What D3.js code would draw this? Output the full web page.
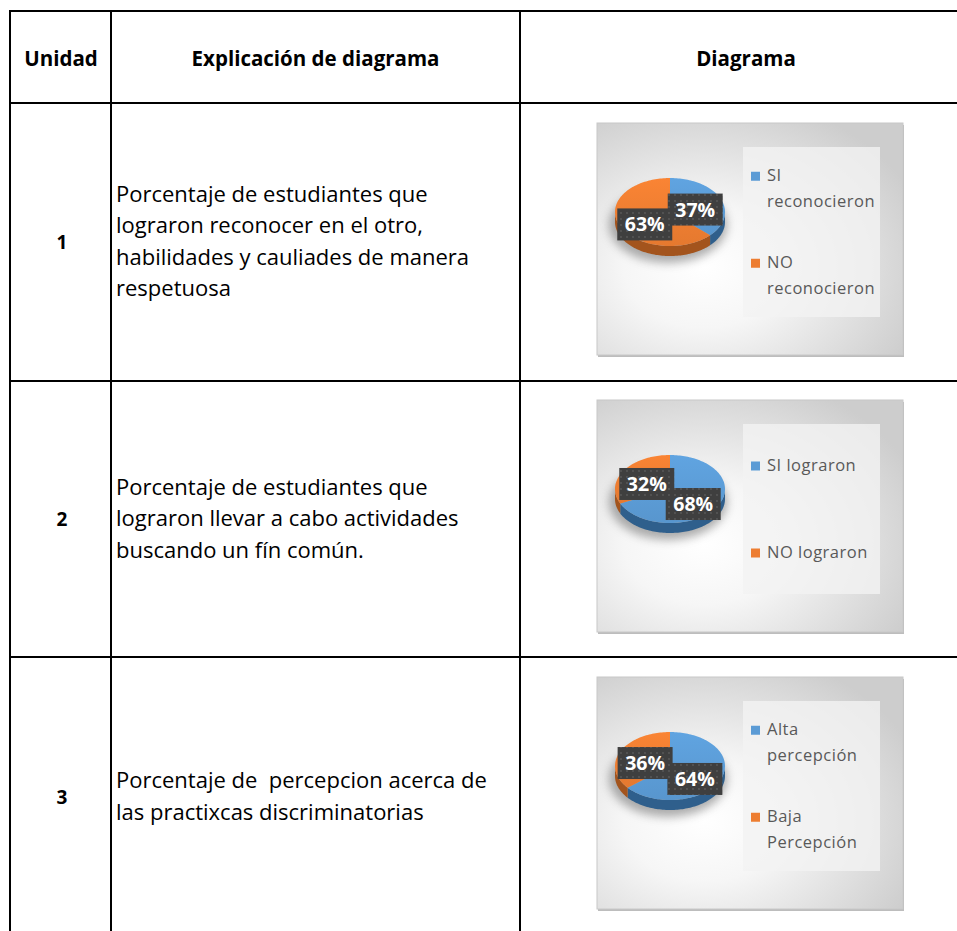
<!DOCTYPE html>
<html><head><meta charset="utf-8">
<script src="https://cdn.jsdelivr.net/npm/d3@7"></script>
<style>body{margin:0;background:#fff}svg{display:block}</style>
</head><body>
<script>
// ---- data ----
const headers = ["Unidad", "Explicación de diagrama", "Diagrama"];
const units = ["1", "2", "3"];
const explanations = [
  ["Porcentaje de estudiantes que", "lograron reconocer en el otro,", "habilidades y cauliades de manera", "respetuosa"],
  ["Porcentaje de estudiantes que", "lograron llevar a cabo actividades", "buscando un fín común."],
  ["Porcentaje de  percepcion acerca de", "las practixcas discriminatorias"]
];
const seriesNames = [
  [["SI", "reconocieron"], ["NO", "reconocieron"]],
  [["SI lograron"], ["NO lograron"]],
  [["Alta", "percepción"], ["Baja", "Percepción"]]
];
const values = [[37, 63], [68, 32], [64, 36]];
const colors = ["#5b9bd5", "#ed7d31"];
const sideColors = ["#2f5f8c", "#a3541d"];

// ---- layout ----
const W = 957, H = 931;
const svg = d3.select("body").append("svg").attr("width", W).attr("height", H);
svg.append("rect").attr("width", W).attr("height", H).attr("fill", "#fff");
const defs = svg.append("defs");

const colX = [10, 111, 520, W];
const rowY = [11, 103, 381, 657, H + 5];
const font = "'Open Sans', sans-serif";

const g = svg.append("g");
// header text
const headerY = (rowY[0] + rowY[1]) / 2;
headers.forEach((h, i) => {
  let cx = (colX[i] + colX[i + 1]) / 2;
  if (i === 2) cx = 746;
  if (i === 0) cx = 61;
  g.append("text").attr("x", cx).attr("y", headerY + 8.5).attr("text-anchor", "middle")
    .attr("font-family", font).attr("font-weight", "bold").attr("font-size", 20.5).attr("fill", "#000").text(h);
});

// rows
const lineH = 31.5;
units.forEach((u, r) => {
  const y0 = rowY[r + 1], y1 = Math.min(rowY[r + 2], 935);
  const cy = r < 2 ? (y0 + y1) / 2 : 797;
  g.append("text").attr("x", 62).attr("y", cy + 7).attr("text-anchor", "middle")
    .attr("font-family", font).attr("font-weight", "bold").attr("font-size", 19).text(u);
  const lines = explanations[r];
  lines.forEach((t, j) => {
    const by = cy + (j - (lines.length - 1) / 2) * lineH + 7;
    g.append("text").attr("x", 116).attr("y", by).attr("font-family", font)
      .attr("font-size", 22).attr("fill", "#000").style("white-space", "pre").text(t);
  });
});

// grid lines
const grid = svg.append("g").attr("stroke", "#000").attr("stroke-width", 2);
rowY.slice(0, 4).forEach(y => grid.append("line").attr("x1", colX[0] - 1).attr("x2", W).attr("y1", y).attr("y2", y));
colX.slice(0, 3).forEach(x => grid.append("line").attr("x1", x).attr("x2", x).attr("y1", rowY[0] - 1).attr("y2", H));

// ---- chart defs ----
const bgGrad = defs.append("radialGradient").attr("id", "bg").attr("cx", "0.35").attr("cy", "0.62").attr("r", "0.75");
bgGrad.append("stop").attr("offset", "0").attr("stop-color", "#ffffff");
bgGrad.append("stop").attr("offset", "0.35").attr("stop-color", "#f6f6f6");
bgGrad.append("stop").attr("offset", "1").attr("stop-color", "#cdcdcd");
const blur = defs.append("filter").attr("id", "blur").attr("x", "-50%").attr("y", "-50%").attr("width", "200%").attr("height", "200%");
blur.append("feGaussianBlur").attr("stdDeviation", 5);
const pat = defs.append("pattern").attr("id", "dots").attr("width", 6).attr("height", 6).attr("patternUnits", "userSpaceOnUse");
pat.append("rect").attr("width", 6).attr("height", 6).attr("fill", "#3f3f3f");
pat.append("circle").attr("cx", 3).attr("cy", 3).attr("r", 0.9).attr("fill", "#5a5a5a");
colors.forEach((c, i) => {
  const lg = defs.append("linearGradient").attr("id", "top" + i).attr("x1", 0).attr("y1", 0).attr("x2", 0).attr("y2", 1);
  lg.append("stop").attr("offset", 0).attr("stop-color", d3.color(c).brighter(0.15));
  lg.append("stop").attr("offset", 1).attr("stop-color", d3.color(c).darker(0.1));
});

// ---- charts ----
const boxX = 597, boxW = 306, boxH = 232;
const boxY = [123, 400, 677];
const rx = 55, ry = 34, depth = 10;
const pie = d3.pie().sort(null).value(d => d);

function pt(cx, cy, a, dy = 0) { return [cx + rx * Math.sin(a), cy - ry * Math.cos(a) + dy]; }
function arcPts(cx, cy, a0, a1, dy = 0) {
  const n = Math.max(2, Math.ceil((a1 - a0) / 0.03));
  return d3.range(n + 1).map(k => pt(cx, cy, a0 + (a1 - a0) * k / n, dy));
}
const line = d3.line();

values.forEach((vals, ci) => {
  const by = boxY[ci];
  const c = svg.append("g");
  c.append("rect").attr("x", boxX + 1).attr("y", by + 2).attr("width", boxW).attr("height", boxH)
    .attr("fill", "#bdbdbd");
  c.append("rect").attr("x", boxX).attr("y", by).attr("width", boxW).attr("height", boxH)
    .attr("fill", "url(#bg)").attr("stroke", "#c8c8c8").attr("stroke-width", 1);
  // legend area
  c.append("rect").attr("x", 743).attr("y", by + 24).attr("width", 137).attr("height", 170).attr("fill", "#f3f3f3").attr("opacity", 0.8);

  const cx = 670, cy = by + 89;
  // shadow
  c.append("ellipse").attr("cx", cx - 2).attr("cy", cy + depth + 3).attr("rx", rx + 4).attr("ry", ry + 4)
    .attr("fill", "#6b6b6b").attr("opacity", 0.55).attr("filter", "url(#blur)");
  const arcs = pie(vals);
  // sides
  arcs.forEach((d, i) => {
    const s = Math.max(d.startAngle, Math.PI / 2), e = Math.min(d.endAngle, 3 * Math.PI / 2);
    if (e > s) {
      const top = arcPts(cx, cy, s, e);
      const bot = arcPts(cx, cy, s, e, depth).reverse();
      c.append("path").attr("d", line(top.concat(bot)) + "Z").attr("fill", sideColors[i]);
    }
  });
  // top faces
  arcs.forEach((d, i) => {
    const pts = [[cx, cy]].concat(arcPts(cx, cy, d.startAngle, d.endAngle));
    c.append("path").attr("d", line(pts) + "Z").attr("fill", `url(#top${i})`);
  });
  // labels
  arcs.forEach((d, i) => {
    const mid = (d.startAngle + d.endAngle) / 2;
    const lx = cx + rx * 0.5 * Math.sin(mid);
    const ly = cy - ry * 0.55 * Math.cos(mid) + depth / 2;
    const bw = 55, bh = 32;
    c.append("rect").attr("x", lx - bw / 2).attr("y", ly - bh / 2).attr("width", bw).attr("height", bh).attr("fill", "url(#dots)");
    c.append("text").attr("x", lx).attr("y", ly + 7).attr("text-anchor", "middle").attr("font-family", font)
      .attr("font-weight", "bold").attr("font-size", 19.5).attr("fill", "#fff").text(d3.format(".0%")(d.data / 100));
  });
  // legend
  seriesNames[ci].forEach((lines, i) => {
    const center = by + 66 + i * 87;
    const firstBase = center - (lines.length - 1) / 2 * 25.5 + 5;
    c.append("rect").attr("x", 751).attr("y", firstBase - 9.5).attr("width", 9).attr("height", 9).attr("fill", colors[i]);
    lines.forEach((t, j) => {
      c.append("text").attr("x", 767).attr("y", firstBase + j * 25.5).attr("font-family", font)
        .attr("font-size", 16.5).attr("letter-spacing", 0.5).attr("fill", "#595959").text(t);
    });
  });
});
</script>
</body></html>
